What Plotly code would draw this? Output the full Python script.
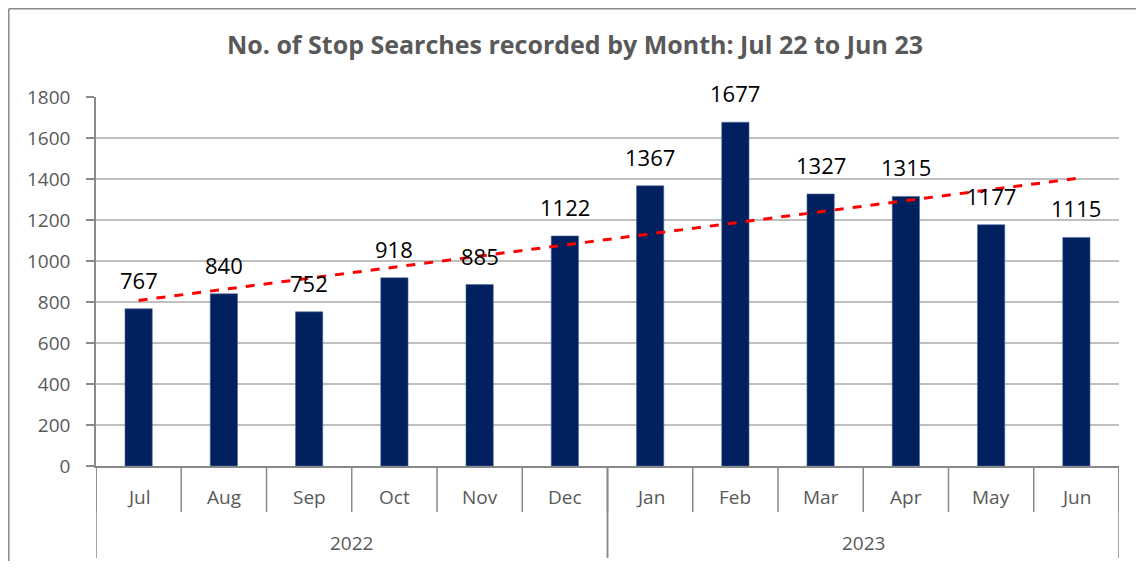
import numpy as np
import plotly.graph_objects as go

years = ["2022", "2023"]
months = ["Jul", "Aug", "Sep", "Oct", "Nov", "Dec", "Jan", "Feb", "Mar", "Apr", "May", "Jun"]
months_per_year = [6, 6]
searches = [767, 840, 752, 918, 885, 1122, 1367, 1677, 1327, 1315, 1177, 1115]
title = "No. of Stop Searches recorded by Month: Jul 22 to Jun 23"

FONT = "Open Sans"
GREY_TXT = "#595959"
AXIS = "#898989"

pos = np.arange(1, len(months) + 1)

# linear trendline (least squares, as in Excel)
slope, intercept = np.polyfit(pos, searches, 1)
trend = slope * pos + intercept

fig = go.Figure()
fig.add_trace(go.Bar(
    x=pos, y=searches,
    marker=dict(color="#002060", line=dict(color="#4F6A9A", width=0.6)),
    width=0.32, showlegend=False,
))
fig.add_trace(go.Scatter(
    x=pos, y=trend, mode="lines",
    line=dict(color="#FF0000", width=3, dash="dash"),
    showlegend=False, hoverinfo="skip",
))

PH = 369.0  # plot height in px
annotations = []
# data labels
for p, v in zip(pos, searches):
    annotations.append(dict(x=p, y=v, xref="x", yref="y", text=str(v), showarrow=False,
                            yanchor="bottom", yshift=12,
                            font=dict(family=FONT, size=22, color="#000000")))
# month labels
for p, m in zip(pos, months):
    annotations.append(dict(x=p, y=-31 / PH, xref="x", yref="paper", text=m, showarrow=False,
                            yanchor="middle", font=dict(family=FONT, size=19, color=GREY_TXT)))

shapes = []
# month dividers
for b in np.arange(0.5, len(months) + 1, 1.0):
    shapes.append(dict(type="line", xref="x", yref="paper", x0=b, x1=b, y0=0, y1=-46 / PH,
                       line=dict(color=AXIS, width=1.5)))
# year labels and dividers
start = 0.5
for yr, n in zip(years, months_per_year):
    end = start + n
    annotations.append(dict(x=(start + end) / 2, y=-77 / PH, xref="x", yref="paper", text=yr,
                            showarrow=False, yanchor="middle",
                            font=dict(family=FONT, size=19, color=GREY_TXT)))
    for b in (start, end):
        shapes.append(dict(type="line", xref="x", yref="paper", x0=b, x1=b, y0=0, y1=-92 / PH,
                           line=dict(color=AXIS, width=1.5)))
    start = end

# outer chart frame: left and top edges only
fx0 = (8.8 - 96) / 1023
fy1 = (466 - 8.8) / PH
shapes.append(dict(type="line", xref="paper", yref="paper", x0=fx0, x1=fx0, y0=-0.5, y1=fy1,
                   line=dict(color=AXIS, width=1.5), layer="below"))
shapes.append(dict(type="line", xref="paper", yref="paper", x0=fx0, x1=(1170 - 96) / 1023,
                   y0=fy1, y1=fy1, line=dict(color=AXIS, width=1.5), layer="below"))

fig.update_layout(
    width=1128, height=553,
    margin=dict(l=88, r=17, t=89, b=95, autoexpand=False),
    paper_bgcolor="white", plot_bgcolor="white",
    title=dict(text="<b>" + title + "</b>", x=(575 - 8) / 1128, xanchor="center",
               y=1 - 37 / 553, yanchor="middle",
               font=dict(family=FONT, size=25, color=GREY_TXT)),
    font=dict(family=FONT, color=GREY_TXT),
    xaxis=dict(range=[0.5, len(months) + 0.5], showline=True, linecolor=AXIS, linewidth=1.5,
               showticklabels=False, ticks="", showgrid=False, zeroline=False, automargin=False),
    yaxis=dict(range=[0, 1800], dtick=200, showline=True, linecolor=AXIS, linewidth=1.5,
               ticks="outside", ticklen=8, tickcolor=AXIS, tickwidth=1.5,
               ticklabelstandoff=12,
               gridcolor="#BFBFBF", gridwidth=1.5, zeroline=False, automargin=False,
               tickfont=dict(family=FONT, size=19, color=GREY_TXT)),
    annotations=annotations,
    shapes=shapes,
)

fig.write_html("out.html")
